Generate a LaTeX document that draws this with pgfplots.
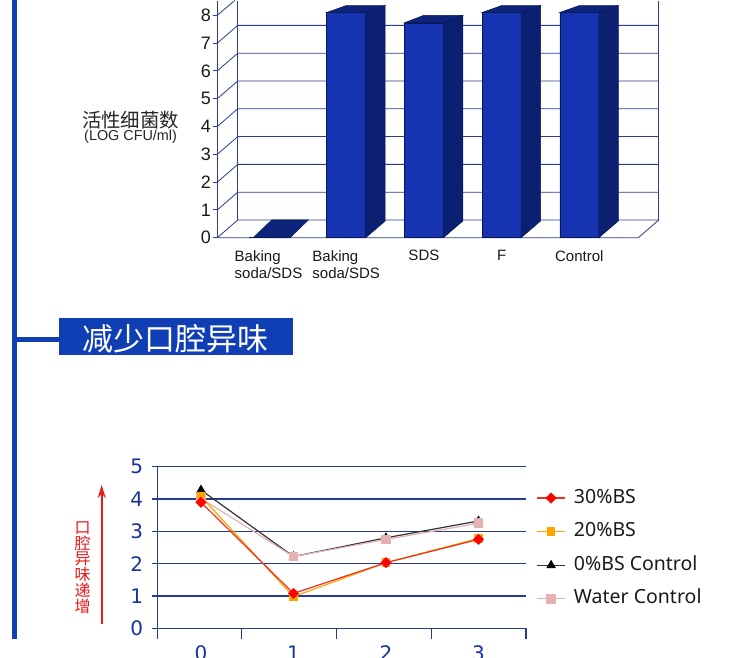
\documentclass[border=0pt]{standalone}
\usepackage{pgfplots}
\pgfplotsset{compat=1.18}
\usepackage{fontspec}
\setmainfont{Liberation Sans}
\newfontfamily\cjk{Noto Sans CJK SC}
\newfontfamily\dejavu{DejaVu Sans}
\newfontfamily\notosans{Noto Sans}
\usetikzlibrary{arrows.meta}
\definecolor{hdrblue}{RGB}{16,62,180}
\definecolor{gridc}{RGB}{45,60,140}
\definecolor{barfront}{RGB}{22,52,178}
\definecolor{barside}{RGB}{11,32,112}
\definecolor{bartop}{RGB}{14,36,122}
\definecolor{baredge}{RGB}{8,22,85}
\definecolor{tickblue}{RGB}{25,50,160}
\definecolor{grid2}{RGB}{38,58,145}
\definecolor{sorange}{RGB}{255,165,0}
\definecolor{spink}{RGB}{228,178,178}
\definecolor{sred}{RGB}{255,0,0}
\definecolor{redline}{RGB}{235,50,30}
\definecolor{arrowred}{RGB}{235,25,25}
\begin{document}
\begin{tikzpicture}[x=1pt,y=1pt]
\clip (0,0) rectangle (750,657);
\fill[white] (0,0) rectangle (750,657);
% left rail and header
\fill[hdrblue] (12,18) rectangle (16.6,657);
\fill[hdrblue] (14,314.8) rectangle (60,319.8);
\fill[hdrblue] (59.3,302) rectangle (293.3,338.7);
\node[anchor=base, text=white, font=\cjk\fontsize{31}{31}\selectfont, inner sep=0] at (175.5,306) {减少口腔异味};
% top chart labels
\node[anchor=base, font=\cjk\fontsize{19.4}{19.4}\selectfont, text=black!85, inner sep=0] at (130.5,529.5) {活性细菌数};
\node[anchor=base, font=\fontsize{14.4}{14.4}\selectfont, text=black!85, inner sep=0] at (130.6,516.5) {(LOG CFU/ml)};

% ---------- top 3D-like bar chart ----------
\begin{axis}[
  at={(217.3pt,419.3pt)}, anchor=south west, scale only axis,
  width=421pt, height=237.7pt,
  xmin=-0.659, xmax=4.759, ymin=0, ymax=8.55,
  clip=false,
  axis line style={draw=none},
  major tick length=0pt,
  /pgf/number format/assume math mode=true,
  xtick={0,...,4},
  xticklabels={{Baking\\soda/SDS},{Baking\\soda/SDS},SDS,F,Control},
  xticklabel style={anchor=north, align=left, inner sep=0pt, yshift=-12.3pt, font=\fontsize{15}{17}\selectfont, text=black!90},
  ytick={0,...,8},
  yticklabel style={font=\fontsize{18}{18}\selectfont, text=black!90, xshift=-3pt},
]
% walls
\pgfplotsinvokeforeach{0,...,7}{
  \draw[gridc, line width=0.8pt] (axis cs:-0.659,#1) -- (axis cs:-0.396,#1.637) -- (axis cs:5.022,#1.637);
}
\pgfplotsinvokeforeach{0,...,8}{
  \draw[gridc, line width=0.8pt] ([xshift=-4pt]axis cs:-0.659,#1) -- (axis cs:-0.659,#1);
}
\draw[gridc, line width=0.8pt] (axis cs:-0.659,8) -- (axis cs:-0.435,8.53);
\draw[gridc, line width=0.8pt] (axis cs:-0.659,0) -- (axis cs:-0.659,8.53);
\draw[gridc, line width=0.8pt] (axis cs:-0.396,0.637) -- (axis cs:-0.396,8.53);
\draw[gridc, line width=0.8pt] (axis cs:5.022,0.637) -- (axis cs:5.022,8.53);
\draw[gridc, line width=0.8pt] (axis cs:-0.659,0) -- (axis cs:4.759,0) -- (axis cs:5.022,0.637);
% bars: front faces
\addplot[ybar, bar width=0.502, fill=barfront, draw=baredge, line width=0.5pt]
  coordinates {(0,0) (1,8.1) (2,7.73) (3,8.1) (4,8.1)};
% side faces
\addplot[fill=barside, draw=baredge, line width=0.5pt] coordinates {(1.251,0) (1.501,0.6) (1.501,8.35) (1.251,8.1)} -- cycle;
\addplot[fill=barside, draw=baredge, line width=0.5pt] coordinates {(2.251,0) (2.501,0.6) (2.501,8.0) (2.251,7.73)} -- cycle;
\addplot[fill=barside, draw=baredge, line width=0.5pt] coordinates {(3.251,0) (3.501,0.6) (3.501,8.35) (3.251,8.1)} -- cycle;
\addplot[fill=barside, draw=baredge, line width=0.5pt] coordinates {(4.251,0) (4.501,0.6) (4.501,8.35) (4.251,8.1)} -- cycle;
% top faces
\addplot[fill=bartop, draw=baredge, line width=0.5pt] coordinates {(-0.196,0) (0.277,0) (0.512,0.637) (0.041,0.637)} -- cycle;
\addplot[fill=bartop, draw=baredge, line width=0.5pt] coordinates {(0.749,8.1) (1.251,8.1) (1.501,8.35) (0.999,8.35)} -- cycle;
\addplot[fill=bartop, draw=baredge, line width=0.5pt] coordinates {(1.749,7.73) (2.251,7.73) (2.501,8.0) (1.999,8.0)} -- cycle;
\addplot[fill=bartop, draw=baredge, line width=0.5pt] coordinates {(2.749,8.1) (3.251,8.1) (3.501,8.35) (2.999,8.35)} -- cycle;
\addplot[fill=bartop, draw=baredge, line width=0.5pt] coordinates {(3.749,8.1) (4.251,8.1) (4.501,8.35) (3.999,8.35)} -- cycle;
\end{axis}

% ---------- bottom line chart ----------
\node[text=arrowred, font=\cjk\fontsize{16}{15.8}\selectfont, align=center, inner sep=0] at (82.7,89.5) {口\\腔\\异\\味\\递\\增};
\draw[arrowred, line width=1.8pt, -{Stealth[length=13pt,width=8pt]}] (101.7,32.7) -- (101.7,172);

\begin{axis}[
  at={(157.7pt,28.7pt)}, anchor=south west, scale only axis,
  width=368.3pt, height=161.6pt,
  xmin=-0.468, xmax=3.514, ymin=0, ymax=5,
  clip=false,
  axis x line*=bottom, axis y line*=left,
  axis line style={draw=grid2, line width=1.2pt},
  ymajorgrids, grid style={draw=grid2, line width=1.2pt},
  ytick={0,...,5}, xtick={0,...,3},
  tick align=outside, major tick length=6pt,
  ytick style={draw=grid2, line width=1.2pt},
  xtick style={draw=none},
  /pgf/number format/assume math mode=true,
  ticklabel style={font=\dejavu\fontsize{20}{20}\selectfont, text=tickblue},
  yticklabel style={xshift=-5pt},
  xticklabel style={anchor=base, inner sep=0pt, text depth=0pt, yshift=-26.5pt},
  legend style={at={(1.029,0.494)}, anchor=west, draw=none, fill=none, inner sep=0pt, outer sep=0pt,
    font=\notosans\fontsize{19.5}{19.5}\selectfont, text=black!90, row sep=15.6pt,
    nodes={inner sep=0pt, text height=14pt, text depth=4pt},
    /tikz/every odd column/.append style={column sep=8.5pt}},
  legend cell align=left,
  legend image code/.code={\draw[mark repeat=2, mark phase=2, #1] plot coordinates {(0pt,0pt) (13.8pt,0pt) (27.6pt,0pt)};},
]
\draw[grid2, line width=1.2pt] (axis cs:-0.468,0) -- ([yshift=-11pt]axis cs:-0.468,0);
\draw[grid2, line width=1.2pt] (axis cs:0.44,0) -- ([yshift=-11pt]axis cs:0.44,0);
\draw[grid2, line width=1.2pt] (axis cs:1.467,0) -- ([yshift=-11pt]axis cs:1.467,0);
\draw[grid2, line width=1.2pt] (axis cs:2.494,0) -- ([yshift=-11pt]axis cs:2.494,0);
\draw[grid2, line width=1.2pt] (axis cs:3.514,0) -- ([yshift=-11pt]axis cs:3.514,0);
% 0%BS Control
\addplot[draw=black!80, line width=1.2pt, mark=triangle*, mark size=4.3pt, mark options={fill=black, draw=black}, forget plot]
  coordinates {(0,4.28) (1,2.22) (2,2.8) (3,3.32)};
% Water Control
\addplot[draw=spink, line width=1.2pt, mark=square*, mark size=4.3pt, mark options={fill=spink, draw=spink}, forget plot]
  coordinates {(0,4.02) (1,2.22) (2,2.75) (3,3.25)};
% 20%BS
\addplot[draw=sorange, line width=1.2pt, mark=square*, mark size=3.6pt, mark options={fill=sorange, draw=sorange}, forget plot]
  coordinates {(0,4.08) (1,0.98) (2,2.03) (3,2.78)};
% 30%BS
\addplot[draw=redline, line width=1.2pt, mark=square*, mark size=3.3pt, mark options={rotate=45, fill=sred, draw=sred}, forget plot]
  coordinates {(0,3.9) (1,1.08) (2,2.03) (3,2.75)};
\addlegendimage{draw=redline, line width=1.2pt, mark=square*, mark size=3.3pt, mark options={rotate=45, fill=sred, draw=sred}}
\addlegendentry{30\%BS}
\addlegendimage{draw=sorange, line width=1.2pt, mark=square*, mark size=3.6pt, mark options={fill=sorange, draw=sorange}}
\addlegendentry{20\%BS}
\addlegendimage{draw=black!80, line width=1.2pt, mark=triangle*, mark size=4.3pt, mark options={fill=black, draw=black}}
\addlegendentry{0\%BS Control}
\addlegendimage{draw=spink, line width=1.2pt, mark=square*, mark size=4.3pt, mark options={fill=spink, draw=spink}}
\addlegendentry{Water Control}
\end{axis}
\end{tikzpicture}
\end{document}
